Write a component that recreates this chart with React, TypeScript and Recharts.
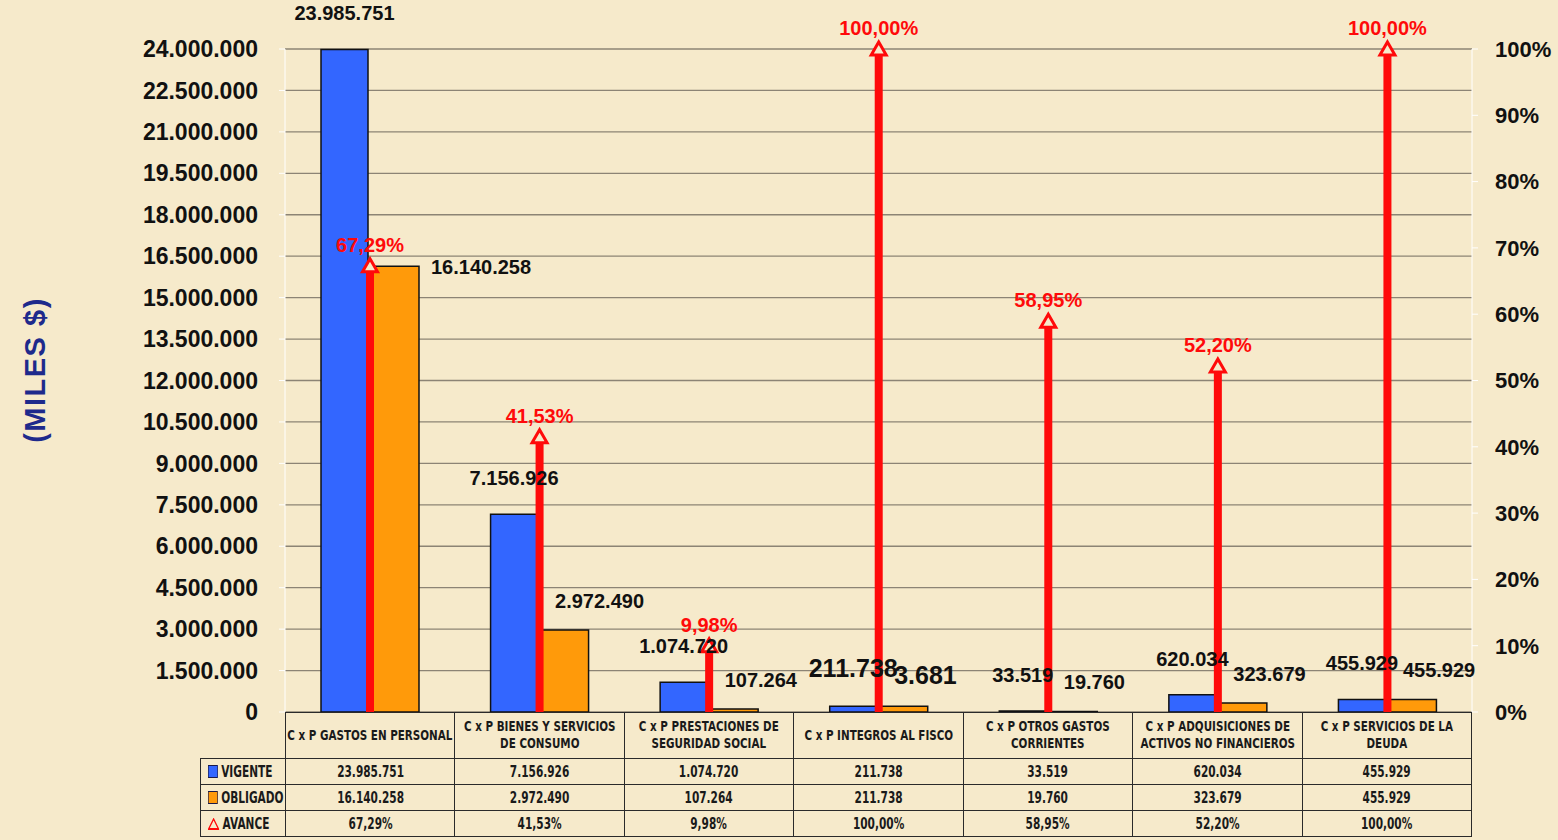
import React from "react";
import { Bar, CartesianGrid, ComposedChart, LabelList, XAxis, YAxis } from "recharts";

const categorias = [
  "C x P GASTOS EN PERSONAL",
  "C x P BIENES Y SERVICIOS\nDE CONSUMO",
  "C x P PRESTACIONES DE\nSEGURIDAD SOCIAL",
  "C x P INTEGROS AL FISCO",
  "C x P OTROS GASTOS\nCORRIENTES",
  "C x P ADQUISICIONES DE\nACTIVOS NO FINANCIEROS",
  "C x P SERVICIOS DE LA\nDEUDA",
];
const vigente = [23985751, 7156926, 1074720, 211738, 33519, 620034, 455929];
const obligado = [16140258, 2972490, 107264, 211738, 19760, 323679, 455929];
// etiqueta que aparece sobre la barra naranja (en el original la de integros dice 3.681)
const obligadoEtiqueta = ["16.140.258", "2.972.490", "107.264", "3.681", "19.760", "323.679", "455.929"];
const avance = [67.29, 41.53, 9.98, 100, 58.95, 52.2, 100];

const montoTicks = [
  0, 1500000, 3000000, 4500000, 6000000, 7500000, 9000000, 10500000, 12000000, 13500000, 15000000, 16500000,
  18000000, 19500000, 21000000, 22500000, 24000000,
];
const porcentajeTicks = [0, 10, 20, 30, 40, 50, 60, 70, 80, 90, 100];

const FONDO = "#F6EACB";
const AZUL = "#3366FF";
const NARANJA = "#FF9A0A";
const ROJO = "#FF0A0A";
const FUENTE = "'Liberation Sans', Arial, sans-serif";
const FUENTE_TABLA = "'DejaVu Sans', sans-serif";

const miles = (n: number) => Math.round(n).toString().replace(/\B(?=(\d{3})+(?!\d))/g, ".");
const pct = (n: number) => n.toFixed(2).replace(".", ",") + "%";

const data = categorias.map((c, i) => ({
  categoria: c,
  vigente: vigente[i],
  obligado: obligado[i],
  obligadoTexto: obligadoEtiqueta[i],
  avance: avance[i],
}));

function AvanceFlecha(props: any) {
  const { x, y, width, height } = props;
  if (x == null || y == null) return null;
  const cx = x + width / 2;
  return (
    <g>
      <rect x={cx - 4} y={y + 5} width={8} height={Math.max(0, height - 5)} fill={ROJO} />
      <path
        d={`M${cx},${y - 7} L${cx + 7.5},${y + 6} L${cx - 7.5},${y + 6} Z`}
        fill={FONDO}
        stroke={ROJO}
        strokeWidth={3}
      />
    </g>
  );
}

function EtiquetaVigente(props: any) {
  const { x, y, width, value, index } = props;
  return (
    <text
      x={x + width / 2}
      y={y - 29}
      textAnchor="middle"
      fontFamily={FUENTE}
      fontWeight="bold"
      fontSize={index === 3 ? 25 : 20}
      fill="#111"
    >
      {miles(Number(value))}
    </text>
  );
}

function EtiquetaObligado(props: any) {
  const { x, y, width, height, value, index } = props;
  // barras altas: etiqueta a la derecha; barras bajas: encima
  const alta = height > 100;
  return (
    <text
      x={alta ? x + width + 12 : x + width / 2 - 10}
      y={alta ? y + 8 : y - 22}
      textAnchor="start"
      fontFamily={FUENTE}
      fontWeight="bold"
      fontSize={index === 3 ? 25 : 20}
      fill="#111"
    >
      {value}
    </text>
  );
}

function EtiquetaAvance(props: any) {
  const { x, y, width, value } = props;
  return (
    <text x={x + width / 2} y={y - 14} textAnchor="middle" fontFamily={FUENTE} fontWeight="bold" fontSize={20} fill={ROJO}>
      {pct(Number(value))}
    </text>
  );
}

const borde = "1.5px solid #2a2a2a";

function Angosto({ children, izq, escala = 0.66 }: { children: React.ReactNode; izq?: boolean; escala?: number }) {
  const ancho = 100 / escala;
  return (
    <div
      style={{
        width: `${ancho}%`,
        marginLeft: izq ? 0 : `${-(ancho - 100) / 2}%`,
        transform: `scaleX(${escala})`,
        transformOrigin: izq ? "left center" : "center center",
        whiteSpace: "pre",
      }}
    >
      {children}
    </div>
  );
}

function TablaDatos() {
  const celda: React.CSSProperties = {
    border: borde,
    textAlign: "center",
    fontFamily: FUENTE_TABLA,
    fontWeight: "bold",
    fontSize: 16,
    color: "#1a1a1a",
    padding: 0,
    height: 25,
    overflow: "visible",
  };
  const leyenda: React.CSSProperties = { ...celda, textAlign: "left", paddingLeft: 7 };
  const cuadro = (color: string) => (
    <span
      style={{
        display: "inline-block",
        width: 13,
        height: 11,
        background: color,
        border: "1.5px solid #1a1a4a",
        marginRight: 5,
        verticalAlign: "-1px",
      }}
    />
  );
  return (
    <table
      style={{
        position: "absolute",
        left: 200,
        top: 712,
        width: 1272,
        borderCollapse: "collapse",
        tableLayout: "fixed",
      }}
    >
      <colgroup>
        <col style={{ width: 85 }} />
        {categorias.map((c) => (
          <col key={c} />
        ))}
      </colgroup>
      <tbody>
        <tr>
          <td style={{ border: "none", height: 43 }} />
          {categorias.map((c) => (
            <td key={c} style={{ ...celda, height: 43, fontSize: 14, lineHeight: "17px" }}>
              <Angosto escala={0.74}>{c}</Angosto>
            </td>
          ))}
        </tr>
        <tr>
          <td style={leyenda}>
            <Angosto izq>
              {cuadro(AZUL)}VIGENTE
            </Angosto>
          </td>
          {vigente.map((v, i) => (
            <td key={i} style={celda}>
              <Angosto>{miles(v)}</Angosto>
            </td>
          ))}
        </tr>
        <tr>
          <td style={leyenda}>
            <Angosto izq>
              {cuadro(NARANJA)}OBLIGADO
            </Angosto>
          </td>
          {obligado.map((v, i) => (
            <td key={i} style={celda}>
              <Angosto>{miles(v)}</Angosto>
            </td>
          ))}
        </tr>
        <tr>
          <td style={leyenda}>
            <Angosto izq>
              <svg width={17} height={12} style={{ marginRight: 5, verticalAlign: "-1px" }}>
                <path d="M8.5,1 L16,11 L1,11 Z" fill="none" stroke={ROJO} strokeWidth={1.8} />
              </svg>
              AVANCE
            </Angosto>
          </td>
          {avance.map((v, i) => (
            <td key={i} style={celda}>
              <Angosto>{pct(v)}</Angosto>
            </td>
          ))}
        </tr>
      </tbody>
    </table>
  );
}

export default function App() {
  return (
    <div
      style={{
        position: "fixed",
        left: 0,
        top: 0,
        width: 1558,
        height: 840,
        background: FONDO,
        overflow: "hidden",
      }}
    >
      <div
        style={{
          position: "absolute",
          left: 35,
          top: 370,
          transform: "translate(-50%, -50%) rotate(-90deg)",
          fontFamily: FUENTE,
          fontWeight: "bold",
          fontSize: 29,
          letterSpacing: 1.5,
          color: "#1E2A8C",
          whiteSpace: "nowrap",
        }}
      >
        (MILES $)
      </div>
      <div style={{ position: "absolute", left: 0, top: 0 }}>
        <ComposedChart width={1558} height={840} data={data} margin={{ top: 49, right: 0, bottom: 128, left: 0 }}>
          <CartesianGrid vertical={false} stroke="#8C8475" strokeWidth={1.3} yAxisId="monto" xAxisId="cat" />
          <XAxis xAxisId="cat" dataKey="categoria" hide />
          <XAxis xAxisId="avance" dataKey="categoria" hide />
          <YAxis
            yAxisId="monto"
            width={285}
            domain={[0, 24000000]}
            ticks={montoTicks}
            interval={0}
            tickFormatter={(v) => miles(Number(v))}
            axisLine={{ stroke: "#ffffff" }}
            tickLine={{ stroke: "#ffffff" }}
            tickSize={6}
            tickMargin={21}
            tick={{ fontFamily: FUENTE, fontWeight: "bold", fontSize: 23, fill: "#111" }}
          />
          <YAxis
            yAxisId="pct"
            orientation="right"
            width={86}
            domain={[0, 100]}
            ticks={porcentajeTicks}
            interval={0}
            tickFormatter={(v) => `${v}%`}
            axisLine={{ stroke: "#ffffff" }}
            tickLine={{ stroke: "#ffffff" }}
            tickSize={6}
            tickMargin={17}
            tick={{ fontFamily: FUENTE, fontWeight: "bold", fontSize: 22, fill: "#111" }}
          />
          <Bar
            xAxisId="cat"
            yAxisId="monto"
            dataKey="vigente"
            fill={AZUL}
            stroke="#111"
            strokeWidth={1.5}
            barSize={47}
            isAnimationActive={false}
          >
            <LabelList dataKey="vigente" content={EtiquetaVigente} />
          </Bar>
          <Bar
            xAxisId="cat"
            yAxisId="monto"
            dataKey="obligado"
            fill={NARANJA}
            stroke="#111"
            strokeWidth={1.5}
            barSize={47}
            isAnimationActive={false}
          >
            <LabelList dataKey="obligadoTexto" content={EtiquetaObligado} />
          </Bar>
          <Bar
            xAxisId="avance"
            yAxisId="pct"
            dataKey="avance"
            barSize={16}
            shape={AvanceFlecha}
            isAnimationActive={false}
          >
            <LabelList dataKey="avance" content={EtiquetaAvance} />
          </Bar>
        </ComposedChart>
      </div>
      <TablaDatos />
    </div>
  );
}
